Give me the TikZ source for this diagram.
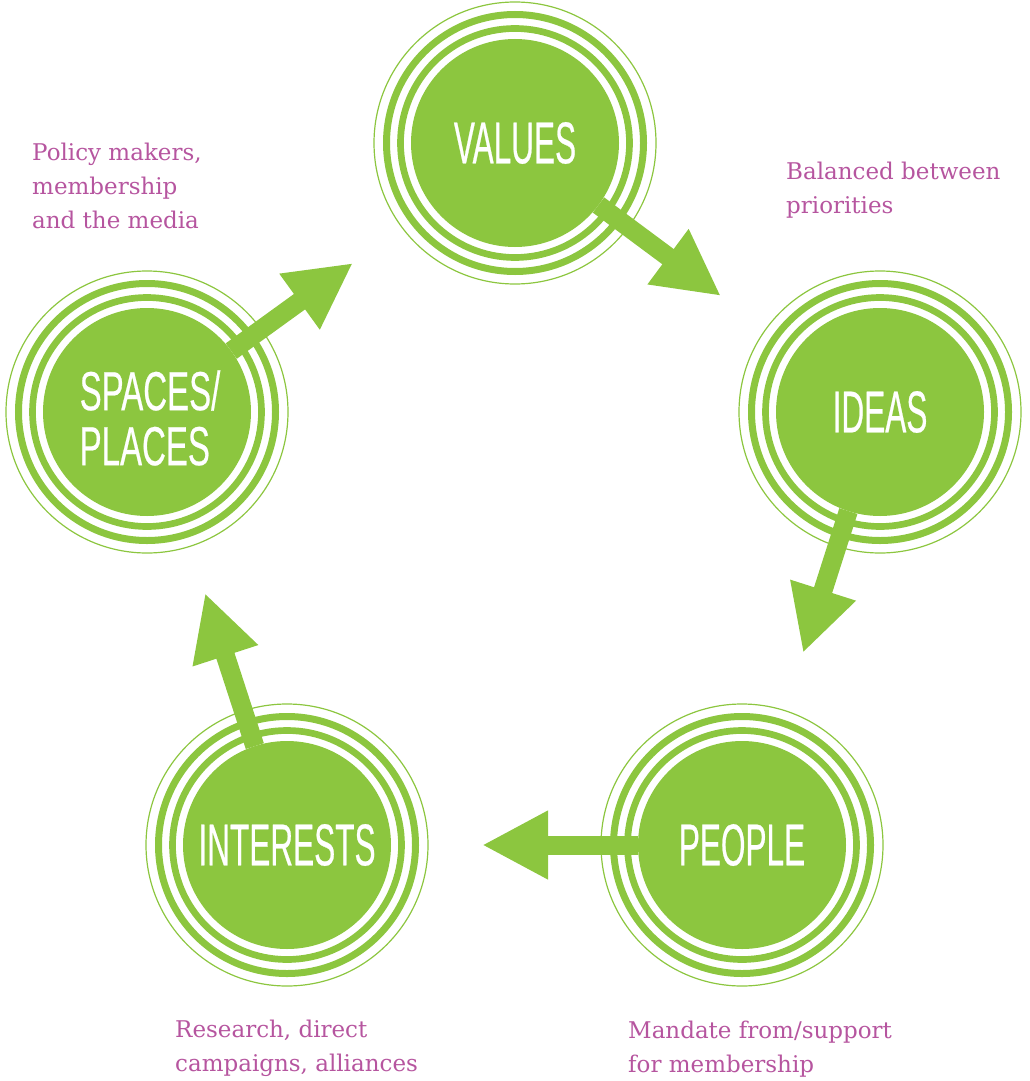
\documentclass[tikz,border=0pt]{standalone}
\usepackage{fontspec}
\usetikzlibrary{arrows.meta}
\newfontfamily\hubfont[FakeStretch=0.535,FakeBold=0.4]{Liberation Sans}
\newfontfamily\widehubfont[FakeStretch=0.6,FakeBold=0.4]{Liberation Sans}
\newfontfamily\notefont{DejaVu Serif}
\definecolor{leafgreen}{HTML}{8CC63F}
\definecolor{notepink}{HTML}{B6559F}

\begin{document}
\begin{tikzpicture}[x=1pt, y=-1pt,
    hub/.style={circle, fill=leafgreen, minimum size=208pt, inner sep=0pt, outer sep=0pt, text=white, align=left, font=\hubfont\fontsize{59}{56}\selectfont},
    ring/.style={draw=leafgreen, line width=#1},
    arrow/.style={-{Triangle[length=66pt, width=64pt]}, line width=19pt, draw=leafgreen},
    note/.style={anchor=north west, inner sep=0pt, align=left, text=notepink, font=\notefont\fontsize{23}{34}\selectfont},
]
\useasboundingbox (0,0) rectangle (1030,1081);

% Five hubs round the cycle
\node[hub] (values) at (515,143) {VALUES};
\node[hub] (ideas) at (880,412) {IDEAS};
\node[hub] (people) at (742,845) {PEOPLE};
\node[hub] (interests) at (287,845) {INTERESTS};
\node[hub] (spaces) at (147,412) {};
\node[text=white, font=\widehubfont\fontsize{55}{55}\selectfont, align=left] (spacestext) at (150,418) {SPACES/\\PLACES};

% Rings round each hub
\foreach \hub in {values, ideas, people, interests, spaces} {
    \draw[ring=6.7pt] (\hub.center) circle[radius=114.5];
    \draw[ring=7pt] (\hub.center) circle[radius=128.5];
    \draw[ring=1.2pt] (\hub.center) circle[radius=141];
}

% Arrow tips
\coordinate (toideas) at (721,296);
\coordinate (topeople) at (803,653);
\coordinate (tointerests) at (482,845);
\coordinate (tospaces) at (205,593);
\coordinate (tovalues) at (353,263);

% Arrows
\draw[arrow] (values) -- (toideas);
\draw[arrow] (ideas) -- (topeople);
\draw[arrow] (people) -- (tointerests);
\draw[arrow] (interests) -- (tospaces);
\draw[arrow] (spaces) -- (tovalues);

% Notes
\node[note] (policy) at (32,143) {Policy makers,\\membership\\and the media};
\node[note] (balanced) at (786,162) {Balanced between\\priorities};
\node[note] (research) at (175,1020) {Research, direct\\campaigns, alliances};
\node[note] (mandate) at (628,1021) {Mandate from/support\\for membership};

\end{tikzpicture}
\end{document}
